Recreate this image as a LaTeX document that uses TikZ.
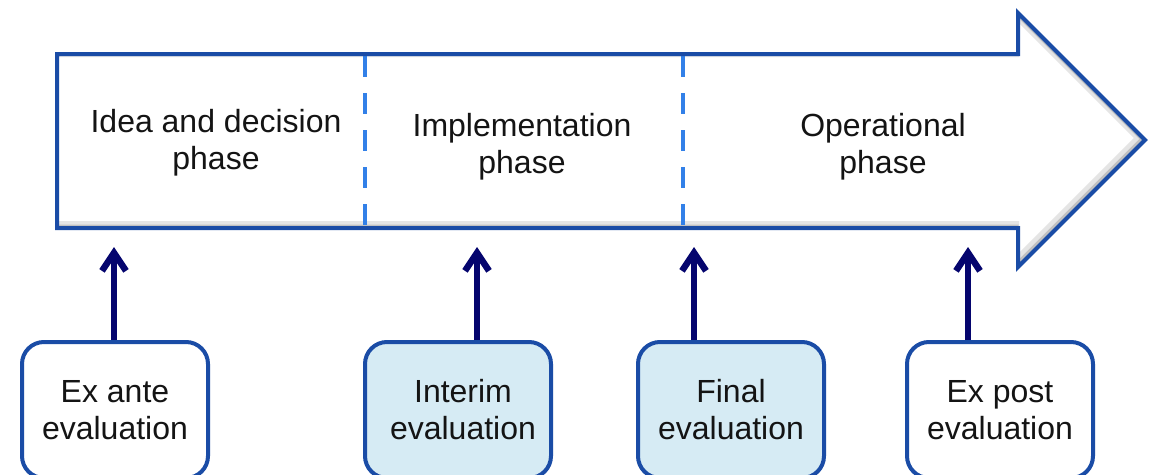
\documentclass[tikz,border=0pt]{standalone}
\usepackage{fontspec}
\setmainfont{Liberation Sans}
\usetikzlibrary{arrows.meta}
\definecolor{outl}{RGB}{26,76,166}
\definecolor{dashc}{RGB}{50,128,232}
\definecolor{navy}{RGB}{5,5,110}
\definecolor{boxfill}{RGB}{214,235,244}
\definecolor{txt}{RGB}{20,20,20}
\tikzset{
  bigtext/.style={font=\fontsize{32}{37}\selectfont, text=txt, align=center},
  evalbox/.style={bigtext, draw=outl, line width=4pt, rounded corners=22pt,
    minimum width=186pt, minimum height=136pt, inner sep=0pt},
  plainbox/.style={evalbox, fill=white},
  bluebox/.style={evalbox, fill=boxfill},
  divider/.style={dashc, line width=4.5pt, dash pattern=on 21pt off 16pt},
  up/.style={navy, line width=6pt, -{Straight Barb[length=18pt,width=24pt,line width=6.5pt]}}
}
\begin{document}
\begin{tikzpicture}[x=1pt,y=-1pt]
\useasboundingbox[fill=white] (0,0) rectangle (1154,474);
% inner shadow of big arrow
\begin{scope}
\clip (57,54) -- (1018,54) -- (1018,13) -- (1145,140) -- (1018,267) -- (1018,228) -- (57,228) -- cycle;
\draw[black!40, opacity=0.25, line width=10pt, shift={(-4,-2)}]
  (57,54) -- (1018,54) -- (1018,13) -- (1145,140) -- (1018,267) -- (1018,228) -- (57,228) -- cycle;
\draw[black!50, opacity=0.35, line width=5pt, shift={(-2,-1)}]
  (57,54) -- (1018,54) -- (1018,13) -- (1145,140) -- (1018,267) -- (1018,228) -- (57,228) -- cycle;
\end{scope}
% dividers
\coordinate (d1t) at (365,56);
\coordinate (d1b) at (365,228);
\coordinate (d2t) at (683,56);
\coordinate (d2b) at (683,228);
\draw[divider] (d1t) -- (d1b);
\draw[divider] (d2t) -- (d2b);
% big arrow outline
\draw[outl, line width=4pt, line join=miter]
  (57,54) -- (1018,54) -- (1018,13) -- (1145,140) -- (1018,267) -- (1018,228) -- (57,228) -- cycle;
% phase texts
\node[bigtext] (p1) at (216,143) {Idea and decision\\phase};
\node[bigtext] (p2) at (522,147) {Implementation\\phase};
\node[bigtext] (p3) at (883,147) {Operational\\phase};
% evaluation boxes
\node[plainbox] (b1) at (115,410) {Ex ante\\evaluation};
\node[bluebox]  (b2) at (458,410) {\hspace*{10pt}Interim\\\hspace*{10pt}evaluation};
\node[bluebox]  (b3) at (731,410) {Final\\evaluation};
\node[plainbox] (b4) at (1000,410) {Ex post\\evaluation};
% arrow targets
\coordinate (t1) at (114,247);
\coordinate (t2) at (477,247);
\coordinate (t3) at (694,247);
\coordinate (t4) at (968,247);
\draw[up] (b1.north -| t1) -- (t1);
\draw[up] (b2.north -| t2) -- (t2);
\draw[up] (b3.north -| t3) -- (t3);
\draw[up] (b4.north -| t4) -- (t4);
\end{tikzpicture}
\end{document}
